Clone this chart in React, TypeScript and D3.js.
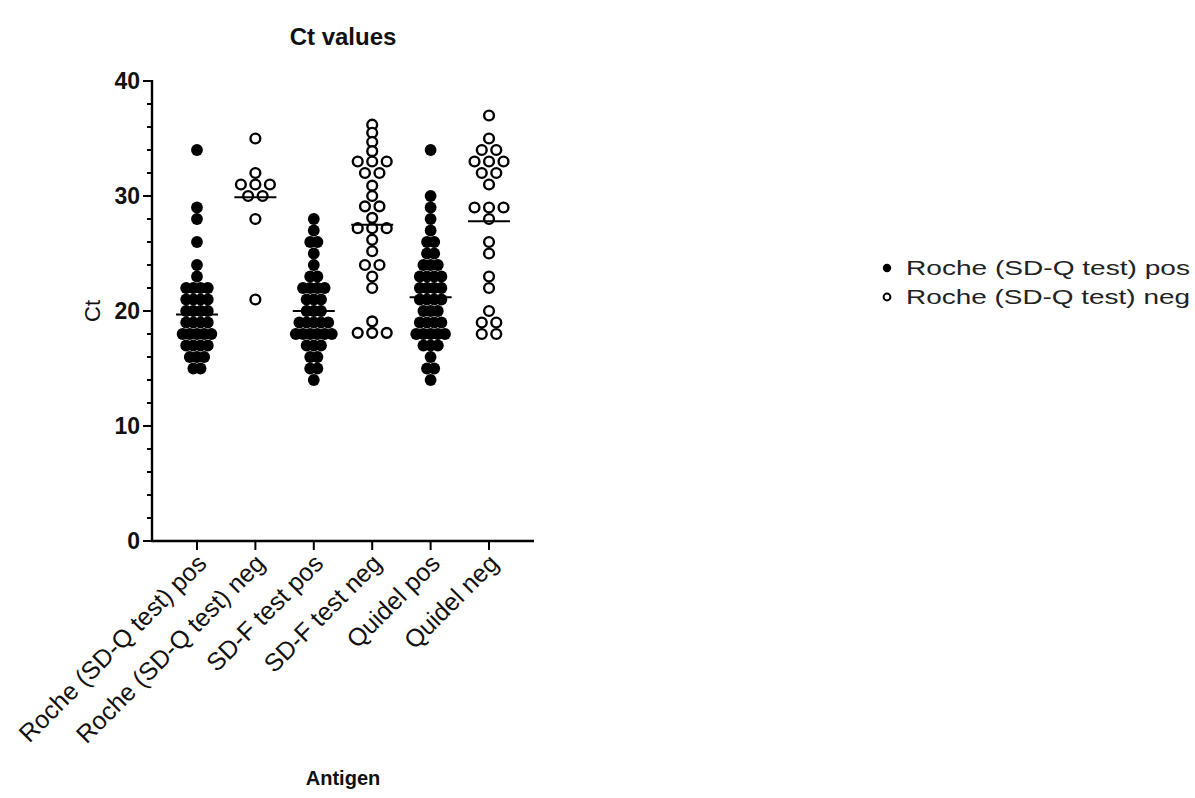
import React from "react";
import * as d3 from "d3";

const categories = [
  "Roche (SD-Q test) pos",
  "Roche (SD-Q test) neg",
  "SD-F test pos",
  "SD-F test neg",
  "Quidel pos",
  "Quidel neg",
];

const rochePos = [34, 29, 28, 26, 24, 23, 22, 22, 22, 22, 21, 21, 21, 21, 20, 20, 20, 20, 19, 19, 19, 19, 18, 18, 18, 18, 18, 17, 17, 17, 17, 16, 16, 16, 15, 15];
const rocheNeg = [35, 32, 31, 31, 31, 30, 30, 28, 21];
const sdfPos = [28, 27, 26, 26, 25, 24, 23, 23, 22, 22, 22, 22, 21, 21, 21, 20, 20, 20, 19, 19, 19, 19, 19, 18, 18, 18, 18, 18, 18, 17, 17, 17, 16, 16, 15, 15, 14];
const sdfNeg = [36.2, 35.5, 34.7, 33.9, 33, 33, 33, 32, 32, 30.9, 30, 29.1, 29.1, 28.1, 27.2, 27.2, 27.2, 26.2, 25.2, 24, 24, 23, 22, 19.1, 18.1, 18.1, 18.1];
const quidelPos = [34, 30, 29, 28, 27, 26, 26, 25, 25, 24, 24, 24, 23, 23, 23, 23, 22, 22, 22, 22, 21, 21, 21, 21, 20, 20, 20, 19, 19, 19, 19, 18, 18, 18, 18, 18, 17, 17, 17, 16, 15, 15, 14];
const quidelNeg = [37, 35, 34, 34, 33, 33, 33, 32, 32, 31, 29, 29, 29, 28, 26, 25, 23, 22, 20, 19, 19, 18, 18];

const seriesValues = [rochePos, rocheNeg, sdfPos, sdfNeg, quidelPos, quidelNeg];
const filledSeries = [true, false, true, false, true, false];
const centerLines = [19.7, 29.9, 20.0, 27.5, 21.2, 27.8];

const yTicksMajor = [0, 10, 20, 30, 40];
const legendLabels = ["Roche (SD-Q test) pos", "Roche (SD-Q test) neg"];

const FONT = "'Liberation Sans', Arial, Helvetica, sans-serif";

export default function App() {
  const width = 1195;
  const height = 798;
  const x0 = 152;
  const x1 = 534;
  const y = d3.scaleLinear().domain([0, 40]).range([541, 81]);
  const x = d3.scalePoint<string>().domain(categories).range([x0, x1]).padding(0.77);
  const minorTicks = d3.range(0, 41, 2);

  const points: { cx: number; cy: number; filled: boolean; key: string }[] = [];
  seriesValues.forEach((vals, gi) => {
    const filled = filledSeries[gi];
    const spacing = filled ? 7.2 : 14.5;
    const groups = d3.group(vals, (v) => v);
    const cxBase = x(categories[gi]) as number;
    Array.from(groups.entries()).forEach(([v, arr]) => {
      const n = arr.length;
      arr.forEach((_, i) => {
        points.push({
          cx: cxBase + (i - (n - 1) / 2) * spacing,
          cy: y(v),
          filled,
          key: `${gi}-${v}-${i}`,
        });
      });
    });
  });

  return (
    <svg width={width} height={height} style={{ display: "block", position: "absolute", left: 0, top: 0, background: "#fff" }}>
      <rect x={0} y={0} width={width} height={height} fill="#fff" />
      <text x={343} y={45} textAnchor="middle" fontFamily={FONT} fontWeight="bold" fontSize={24} fill="#111">
        Ct values
      </text>

      {/* y axis */}
      <line x1={x0} x2={x0} y1={y(40) - 1} y2={y(0) + 1} stroke="#000" strokeWidth={2.4} />
      {minorTicks.map((t) => {
        const major = t % 10 === 0;
        return (
          <line key={`yt${t}`} x1={x0 - (major ? 9 : 5)} x2={x0} y1={y(t)} y2={y(t)} stroke="#000" strokeWidth={2} />
        );
      })}
      {yTicksMajor.map((t) => (
        <text key={`yl${t}`} x={x0 - 12} y={y(t) + 8} textAnchor="end" fontFamily={FONT} fontWeight="bold" fontSize={23} fill="#111">
          {t}
        </text>
      ))}
      <text transform={`translate(100, ${y(20)}) rotate(-90)`} textAnchor="middle" fontFamily={FONT} fontSize={22} fill="#111">
        Ct
      </text>

      {/* x axis */}
      <line x1={x0 - 1} x2={x1} y1={y(0)} y2={y(0)} stroke="#000" strokeWidth={2.4} />
      {categories.map((c) => (
        <line key={`xt${c}`} x1={x(c)} x2={x(c)} y1={y(0)} y2={y(0) + 9} stroke="#000" strokeWidth={2} />
      ))}
      {categories.map((c) => (
        <text
          key={`xl${c}`}
          transform={`translate(${(x(c) as number) + 11}, ${y(0) + 24}) rotate(-45)`}
          textAnchor="end"
          fontFamily={FONT}
          fontSize={25}
          fill="#111"
        >
          {c}
        </text>
      ))}
      <text x={343} y={785} textAnchor="middle" fontFamily={FONT} fontWeight="bold" fontSize={20} fill="#111">
        Antigen
      </text>

      {/* points */}
      {points.map((p) =>
        p.filled ? (
          <circle key={p.key} cx={p.cx} cy={p.cy} r={5.9} fill="#000" />
        ) : (
          <circle key={p.key} cx={p.cx} cy={p.cy} r={4.9} fill="#fff" stroke="#000" strokeWidth={2.4} />
        )
      )}

      {/* center lines */}
      {centerLines.map((m, i) => {
        const cx = x(categories[i]) as number;
        return <line key={`m${i}`} x1={cx - 21} x2={cx + 21} y1={y(m)} y2={y(m)} stroke="#000" strokeWidth={2} />;
      })}

      {/* legend */}
      {legendLabels.map((l, i) => (
        <g key={`lg${i}`} transform={`translate(887, ${268 + i * 29})`}>
          {i === 0 ? (
            <circle cx={0} cy={0} r={4.2} fill="#000" />
          ) : (
            <circle cx={0} cy={0} r={3.4} fill="#fff" stroke="#000" strokeWidth={2} />
          )}
          <text x={19} y={7} fontFamily={FONT} fontSize={21} fill="#222" textLength={284} lengthAdjust="spacingAndGlyphs">
            {l}
          </text>
        </g>
      ))}
    </svg>
  );
}
